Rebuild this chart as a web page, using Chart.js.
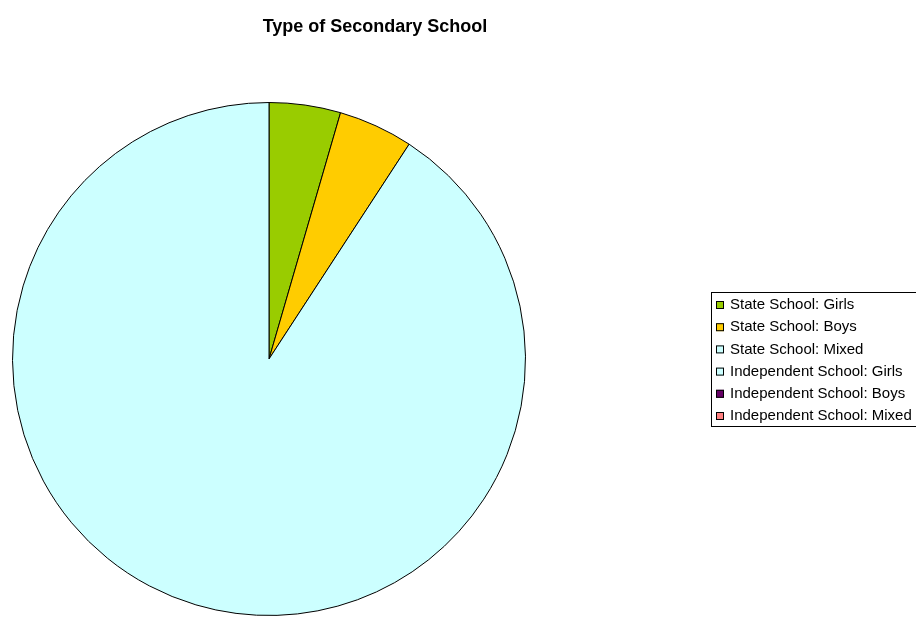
<!DOCTYPE html>
<html>
<head>
<meta charset="utf-8">
<title>Type of Secondary School</title>
<script src="https://cdn.jsdelivr.net/npm/chart.js@4/dist/chart.umd.min.js"></script>
<style>
  html, body { margin: 0; padding: 0; background: #fff; }
  #wrap { width: 916px; height: 617px; position: relative; }
</style>
</head>
<body>
<div id="wrap"><canvas id="schoolChart"></canvas></div>
<script>
const chartTitle = 'Type of Secondary School';
const schoolTypes = [
    'State School: Girls',
    'State School: Boys',
    'State School: Mixed',
    'Independent School: Girls',
    'Independent School: Boys',
    'Independent School: Mixed'
];
const schoolShares = [4.5, 4.7, 90.8, 0, 0, 0];
const sliceColours = ['#99cc00', '#ffcc00', '#ccffff', '#ccffff', '#660066', '#ff8080'];

const fontFamily = 'Arial, "Liberation Sans", sans-serif';

// title and boxed legend painted straight onto the canvas
const decorations = {
    id: 'decorations',
    afterDraw(chart) {
        const ctx = chart.ctx;
        ctx.save();
        ctx.fillStyle = '#000';
        ctx.font = 'bold 18px ' + fontFamily;
        ctx.textAlign = 'center';
        ctx.textBaseline = 'alphabetic';
        ctx.fillText(chartTitle, 375, 32);

        const boxX = 711.5, boxY = 292.5, boxW = 210, rowH = 22.2;
        const boxH = 134;
        ctx.strokeStyle = '#000';
        ctx.lineWidth = 1;
        ctx.strokeRect(boxX, boxY, boxW, boxH);

        ctx.font = '15px ' + fontFamily;
        ctx.textAlign = 'left';
        ctx.textBaseline = 'middle';
        schoolTypes.forEach((label, i) => {
            const cy = 305 + i * rowH;
            ctx.fillStyle = sliceColours[i];
            ctx.fillRect(716, cy - 4, 8, 8);
            ctx.strokeRect(716.5, cy - 3.5, 7, 7);
            ctx.fillStyle = '#000';
            ctx.fillText(label, 730, cy);
        });
        ctx.restore();
    }
};

new Chart(document.getElementById('schoolChart'), {
    type: 'pie',
    data: {
        labels: schoolTypes,
        datasets: [{
            data: schoolShares,
            backgroundColor: sliceColours,
            borderColor: '#000',
            borderWidth: 1,
            hoverOffset: 0
        }]
    },
    options: {
        responsive: true,
        maintainAspectRatio: false,
        animation: false,
        layout: {
            padding: { top: 102, left: 12, right: 390, bottom: 1 }
        },
        plugins: {
            legend: { display: false },
            title: { display: false },
            tooltip: { enabled: false }
        }
    },
    plugins: [decorations]
});
</script>
</body>
</html>
